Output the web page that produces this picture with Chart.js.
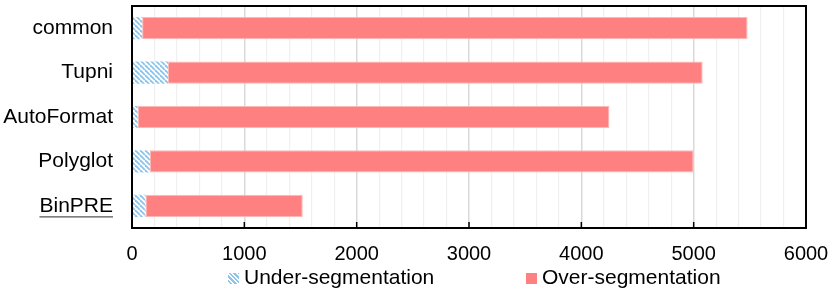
<!DOCTYPE html>
<html>
<head>
<meta charset="utf-8">
<script src="https://cdn.jsdelivr.net/npm/chart.js@4.4.1/dist/chart.umd.min.js"></script>
<style>
  body { margin: 0; background: #fff; }
  #wrap { position: relative; width: 832px; height: 292px; }
  .legend-item { position: absolute; top: 266px; font: 21px "Liberation Sans", Arial, sans-serif; line-height: 22px; color: #000; white-space: nowrap; }
  .swatch { position: absolute; top: 7px; width: 11px; height: 11px; }
  .swatch.hatch { background: repeating-linear-gradient(45deg, #fff 0 1.5px, #8cc4ec 1.5px 3.2px); }
  .swatch.solid { background: #ff8080; }
</style>
</head>
<body>
<div id="wrap">
  <canvas id="chart" width="832" height="292"></canvas>
  <div class="legend-item" style="left:228px"><span class="swatch hatch" style="left:0"></span><span style="margin-left:16px">Under-segmentation</span></div>
  <div class="legend-item" style="left:526px"><span class="swatch solid" style="left:0"></span><span style="margin-left:16px">Over-segmentation</span></div>
</div>
<script>
  const categories = ['common', 'Tupni', 'AutoFormat', 'Polyglot', 'BinPRE'];
  const underSeg = [90, 320, 50, 160, 120];
  const overSeg = [5390, 4760, 4200, 4840, 1400];
  const xTickLabels = [0, 1000, 2000, 3000, 4000, 5000, 6000];

  // diagonal hatch for the under-segmentation bars
  function makeHatch() {
    const s = 5;
    const c = document.createElement('canvas');
    c.width = s; c.height = s;
    const g = c.getContext('2d');
    g.fillStyle = '#fff';
    g.fillRect(0, 0, s, s);
    g.strokeStyle = '#8cc4ec';
    g.lineWidth = 1.8;
    for (const k of [-s, 0, s]) {
      g.beginPath();
      g.moveTo(k, 0);
      g.lineTo(k + s, s);
      g.stroke();
    }
    return g.createPattern(c, 'repeat');
  }

  const framePlugin = {
    id: 'frame',
    afterDraw(chart) {
      const { ctx, chartArea: a, scales } = chart;
      ctx.save();
      // inner tick marks at the major values
      ctx.strokeStyle = '#000';
      ctx.lineWidth = 1.5;
      xTickLabels.forEach(v => {
        const x = scales.x.getPixelForValue(v);
        ctx.beginPath();
        ctx.moveTo(x, a.bottom);
        ctx.lineTo(x, a.bottom - 6);
        ctx.stroke();
      });
      ctx.lineWidth = 2;
      ctx.strokeRect(a.left, a.top, a.right - a.left, a.bottom - a.top);

      // underline BinPRE
      const i = categories.indexOf('BinPRE');
      const y = scales.y.getPixelForTick(i);
      ctx.font = '21px "Liberation Sans", Arial, sans-serif';
      const w = ctx.measureText(categories[i]).width;
      const right = a.left - 19;
      ctx.strokeStyle = '#555';
      ctx.lineWidth = 1.2;
      ctx.beginPath();
      ctx.moveTo(right - w, y + 11);
      ctx.lineTo(right, y + 11);
      ctx.stroke();
      ctx.restore();
    }
  };

  new Chart(document.getElementById('chart'), {
    type: 'bar',
    data: {
      labels: categories,
      datasets: [{
        label: 'Under-segmentation',
        data: underSeg,
        backgroundColor: makeHatch(),
        borderWidth: 0
      }, {
        label: 'Over-segmentation',
        data: overSeg,
        backgroundColor: '#ff8080',
        borderColor: '#ffb8b8',
        borderWidth: 1,
        borderSkipped: false
      }]
    },
    options: {
      indexAxis: 'y',
      responsive: false,
      animation: false,
      barPercentage: 0.5,
      categoryPercentage: 1,
      layout: { padding: { top: 6, right: 26, left: 0, bottom: 0 } },
      plugins: {
        legend: { display: false },
        tooltip: { enabled: false }
      },
      scales: {
        x: {
          stacked: true,
          min: 0,
          max: 6000,
          afterFit: s => { s.height = 64; s.paddingLeft = 0; s.paddingRight = 0; },
          border: { display: false },
          grid: {
            drawTicks: false,
            color: c => (c.tick && c.tick.value % 1000 === 0) ? '#d9d9d9' : '#f0f0f0',
            lineWidth: c => (c.tick && c.tick.value % 1000 === 0) ? 1.5 : 1.2
          },
          ticks: {
            stepSize: 200,
            autoSkip: false,
            maxRotation: 0,
            padding: 14,
            color: '#000',
            font: { family: '"Liberation Sans", Arial, sans-serif', size: 20 },
            callback: v => xTickLabels.includes(v) ? String(v) : ''
          }
        },
        y: {
          stacked: true,
          afterFit: s => { s.width = 132; s.paddingTop = 0; s.paddingBottom = 0; },
          border: { display: false },
          grid: { display: false, drawTicks: false },
          ticks: {
            padding: 19,
            color: '#000',
            font: { family: '"Liberation Sans", Arial, sans-serif', size: 21 }
          }
        }
      }
    },
    plugins: [framePlugin]
  });
</script>
</body>
</html>
